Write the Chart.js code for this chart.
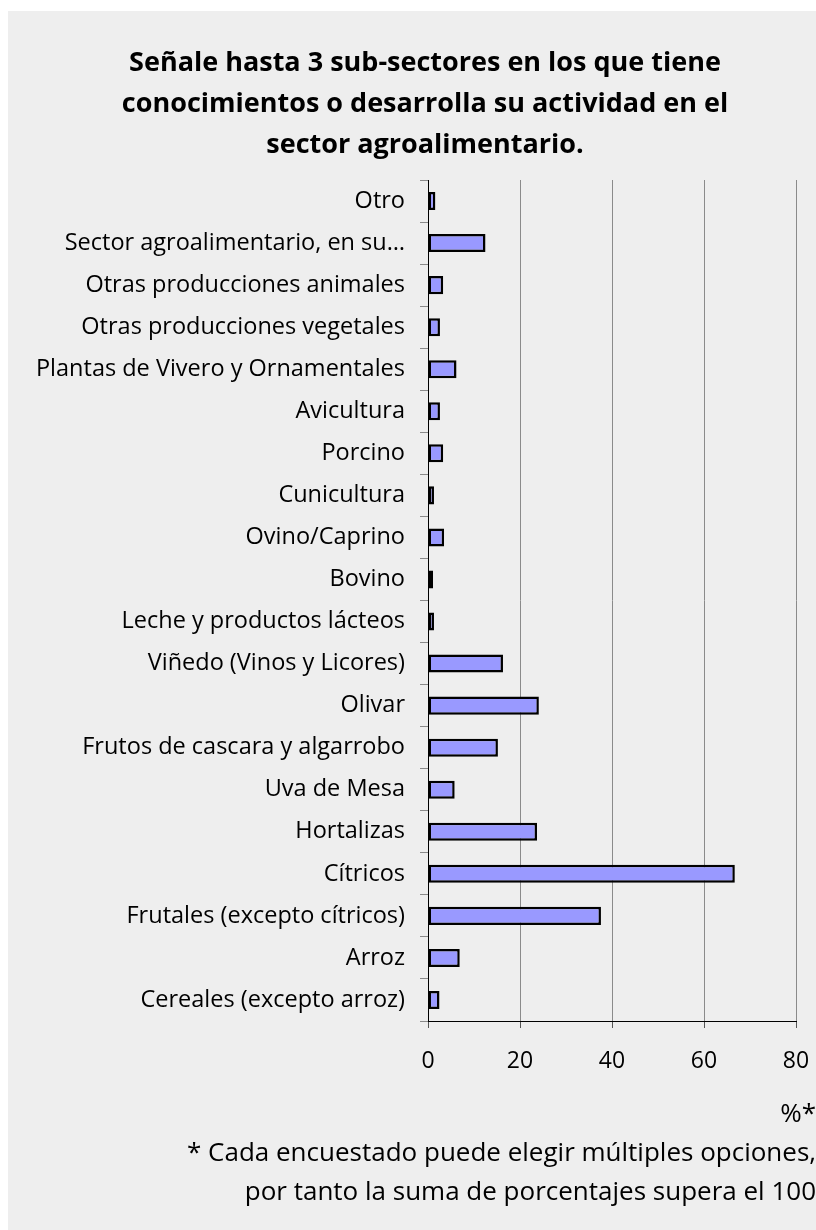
<!DOCTYPE html>
<html>
<head>
<meta charset="utf-8">
<script src="https://cdn.jsdelivr.net/npm/chart.js@4/dist/chart.umd.min.js"></script>
<style>
  html, body { margin: 0; padding: 0; background: #ffffff; }
  #wrap { position: absolute; left: 8px; top: 11px; width: 808px; height: 1219px; background: #eeeeee; }
</style>
</head>
<body>
<div id="wrap"><canvas id="chart" width="808" height="1219"></canvas></div>
<script>
// categories from top to bottom, as drawn
const sectores = [
  "Otro",
  "Sector agroalimentario, en su…",
  "Otras producciones animales",
  "Otras producciones vegetales",
  "Plantas de Vivero y Ornamentales",
  "Avicultura",
  "Porcino",
  "Cunicultura",
  "Ovino/Caprino",
  "Bovino",
  "Leche y productos lácteos",
  "Viñedo (Vinos y Licores)",
  "Olivar",
  "Frutos de cascara y algarrobo",
  "Uva de Mesa",
  "Hortalizas",
  "Cítricos",
  "Frutales (excepto cítricos)",
  "Arroz",
  "Cereales (excepto arroz)"
];
const porcentajes = [1.6, 12.5, 3.3, 2.6, 6.2, 2.6, 3.3, 1.3, 3.5, 1.1, 1.3, 16.3, 24.1, 15.2, 5.8, 23.7, 66.7, 37.6, 6.9, 2.5];
const xTicks = [0, 20, 40, 60, 80];
const titulo = [
  "Señale hasta 3 sub-sectores en los que tiene",
  "conocimientos o desarrolla su actividad en el",
  "sector agroalimentario."
];
const nota = [
  "%*",
  "* Cada encuestado puede elegir múltiples opciones,",
  "por tanto la suma de porcentajes supera el 100"
];

const font = "'Open Sans', 'DejaVu Sans', sans-serif";

new Chart(document.getElementById("chart"), {
  type: "bar",
  data: {
    labels: sectores,
    datasets: [{
      data: porcentajes,
      backgroundColor: "#9999ff",
      borderColor: "#000000",
      borderWidth: 2.5,
      borderSkipped: false,
      categoryPercentage: 1,
      barPercentage: 0.43
    }]
  },
  options: {
    indexAxis: "y",
    responsive: false,
    animation: false,
    layout: { padding: { left: 26, right: 0, top: 0, bottom: 0 } },
    plugins: {
      legend: { display: false },
      tooltip: { enabled: false },
      title: {
        display: true,
        text: titulo,
        color: "#000",
        font: { family: font, size: 27, weight: "bold", lineHeight: 41 / 27 },
        padding: { top: 32, bottom: 14 }
      },
      subtitle: {
        display: true,
        position: "bottom",
        align: "end",
        text: nota,
        color: "#000",
        font: { family: font, size: 26, weight: "normal", lineHeight: 39 / 26 },
        padding: { top: 0, bottom: 18 }
      }
    },
    scales: {
      x: {
        min: 0,
        max: 80,
        afterBuildTicks: (scale) => { scale.ticks = xTicks.map(v => ({ value: v })); },
        afterFit: (scale) => { scale.paddingRight = 20; },
        grid: { color: "#8a8a8a", lineWidth: 1, tickLength: 7, tickColor: "#555" },
        border: { color: "#000", width: 1 },
        ticks: { color: "#000", padding: 22, font: { family: font, size: 23, lineHeight: 1 } }
      },
      y: {
        afterFit: (scale) => { scale.width = 394; },
        grid: { drawOnChartArea: false, offset: true, tickLength: 8, color: "#8a8a8a" },
        border: { color: "#000", width: 1 },
        ticks: { color: "#000", padding: 15, autoSkip: false, font: { family: font, size: 23.5 } }
      }
    }
  }
});
</script>
</body>
</html>
